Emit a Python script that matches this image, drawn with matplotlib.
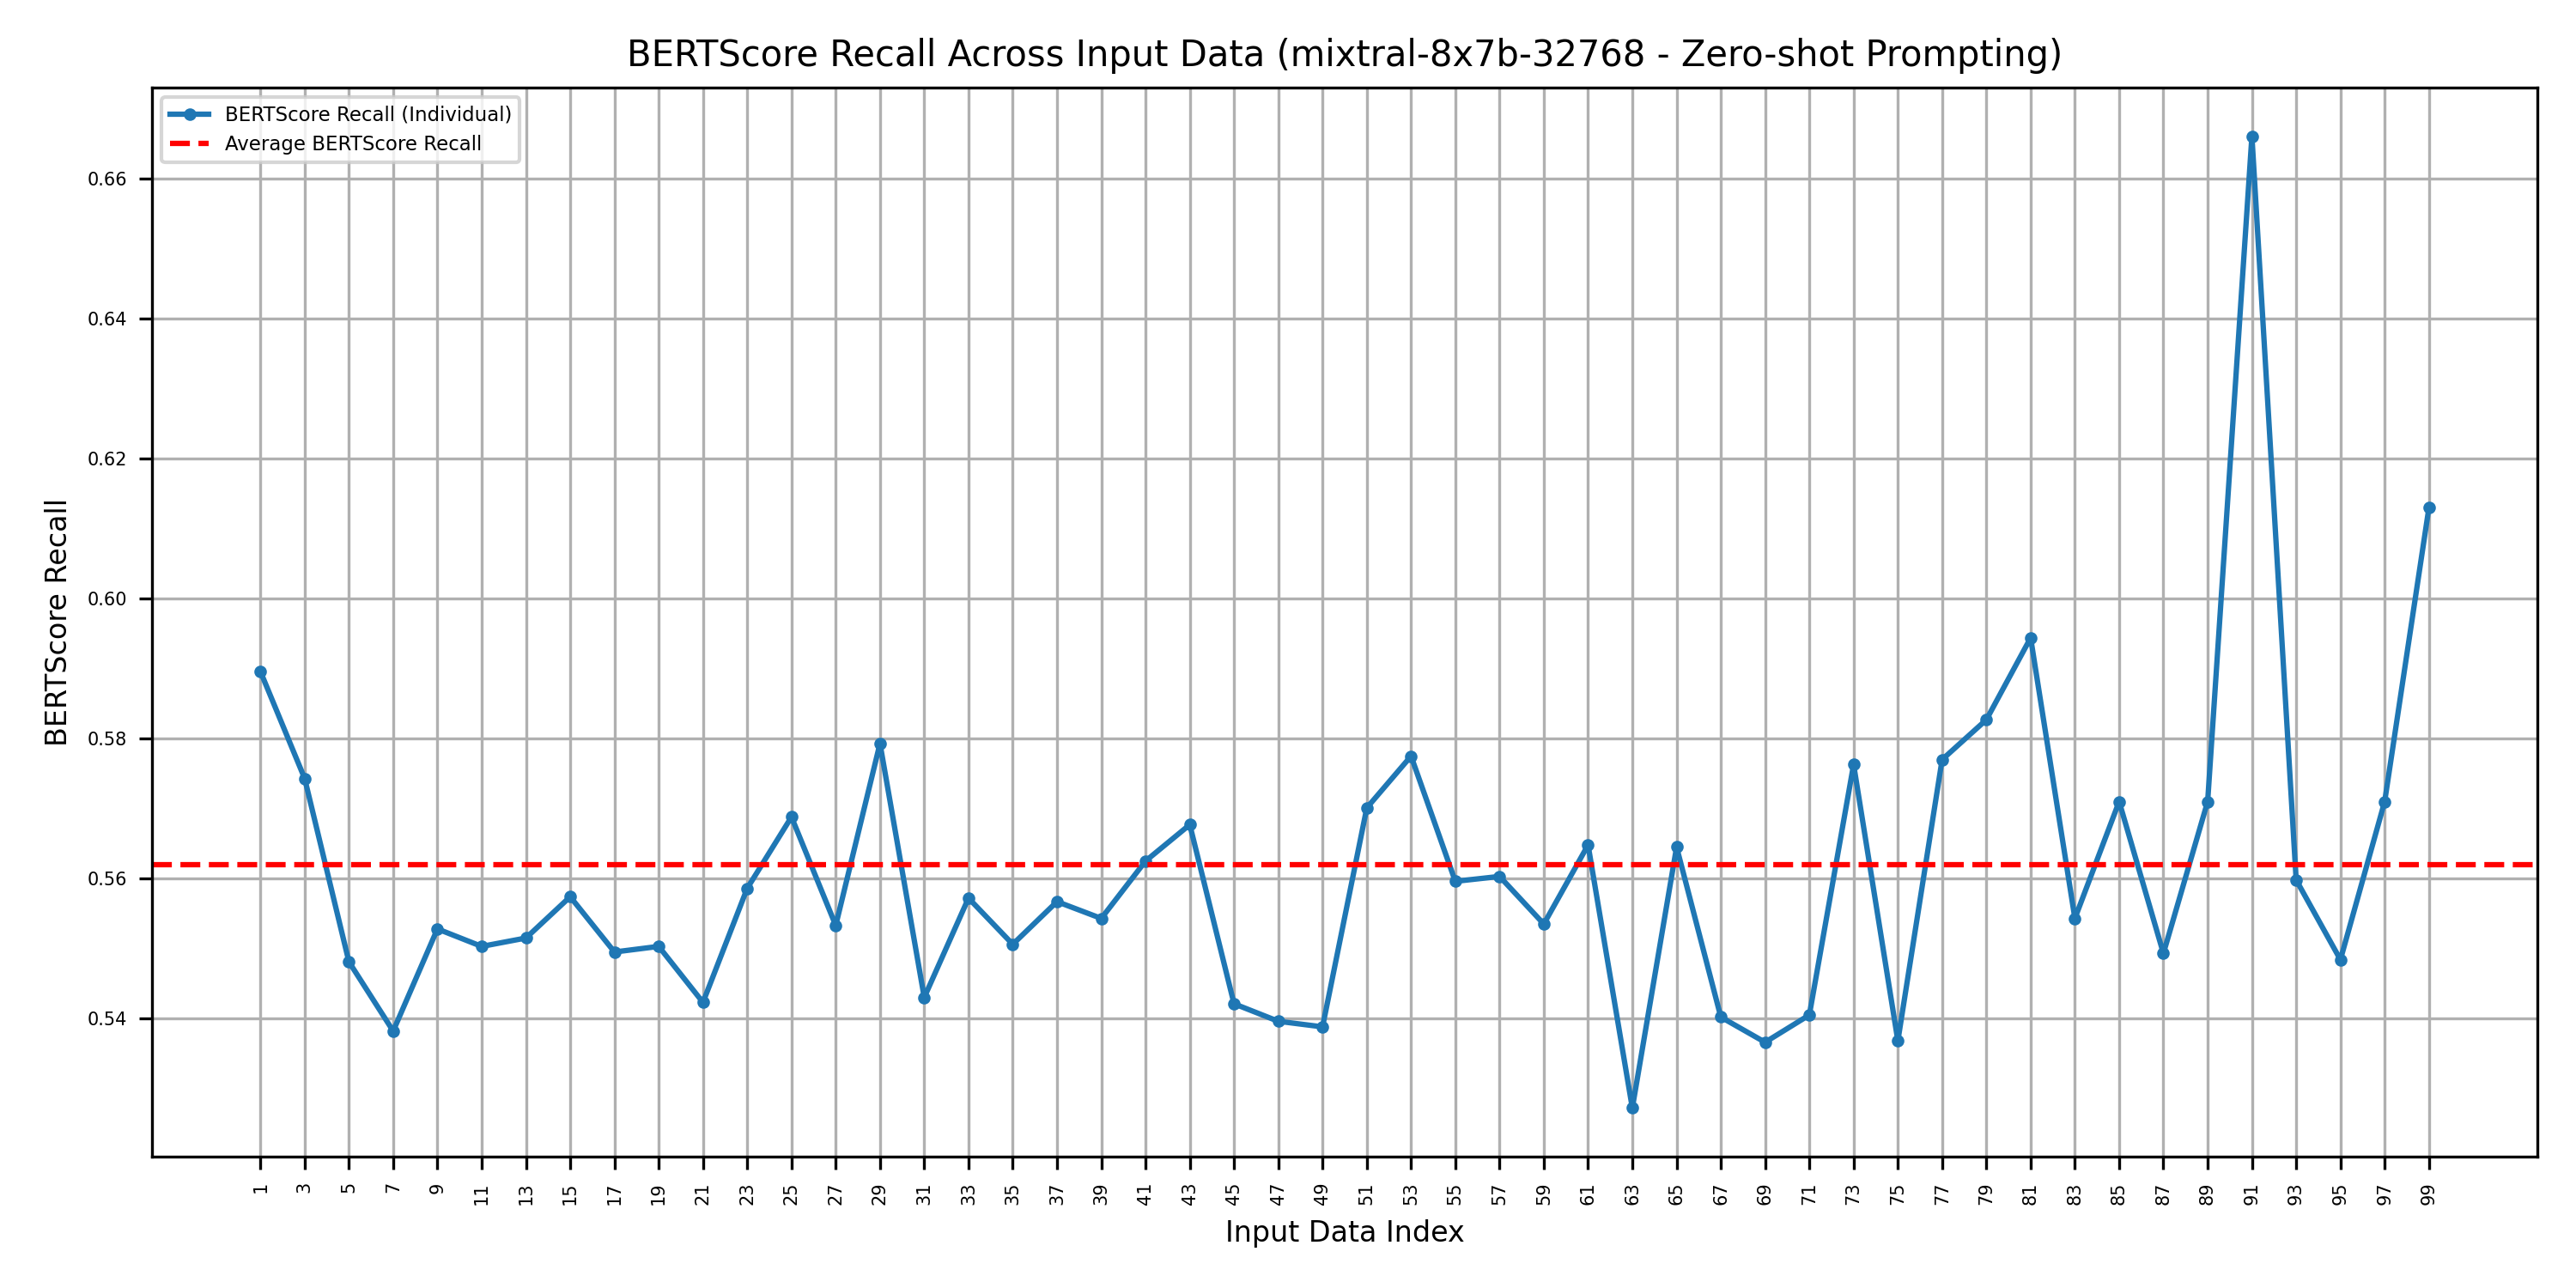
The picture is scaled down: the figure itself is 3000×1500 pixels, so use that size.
import matplotlib
matplotlib.use("Agg")
import matplotlib.pyplot as plt
import numpy as np

idx = list(range(1, 100, 2))
recall = [0.5896, 0.5743, 0.5481, 0.5382, 0.5528, 0.5503, 0.5515, 0.5574, 0.5495, 0.5503,
          0.5423, 0.5586, 0.5688, 0.5533, 0.5793, 0.5430, 0.5572, 0.5506, 0.5567, 0.5543,
          0.5625, 0.5677, 0.5421, 0.5396, 0.5388, 0.5701, 0.5775, 0.5596, 0.5603, 0.5535,
          0.5648, 0.5272, 0.5645, 0.5402, 0.5366, 0.5405, 0.5763, 0.5368, 0.5770, 0.5827,
          0.5944, 0.5543, 0.5710, 0.5493, 0.5710, 0.6661, 0.5598, 0.5484, 0.5710, 0.6130]
avg = 0.562

fig, ax = plt.subplots(figsize=(10, 5), dpi=300)
ax.plot(idx, recall, marker='o', markersize=2.5, color='#1f77b4', label='BERTScore Recall (Individual)')
ax.axhline(avg, color='red', linestyle='--', label='Average BERTScore Recall')
ax.set_title('BERTScore Recall Across Input Data (mixtral-8x7b-32768 - Zero-shot Prompting)', fontsize=10)
ax.set_xlabel('Input Data Index', fontsize=8)
ax.set_ylabel('BERTScore Recall', fontsize=8)
ax.set_xticks(idx)
ax.set_xticklabels([str(i) for i in idx], rotation=90)
ax.tick_params(labelsize=5)
ax.grid(True)
ax.legend(prop={'size': 5.5}, loc='upper left')
plt.subplots_adjust(left=0.059, right=0.985, top=0.932, bottom=0.102)
plt.savefig('out.png', dpi=300)
